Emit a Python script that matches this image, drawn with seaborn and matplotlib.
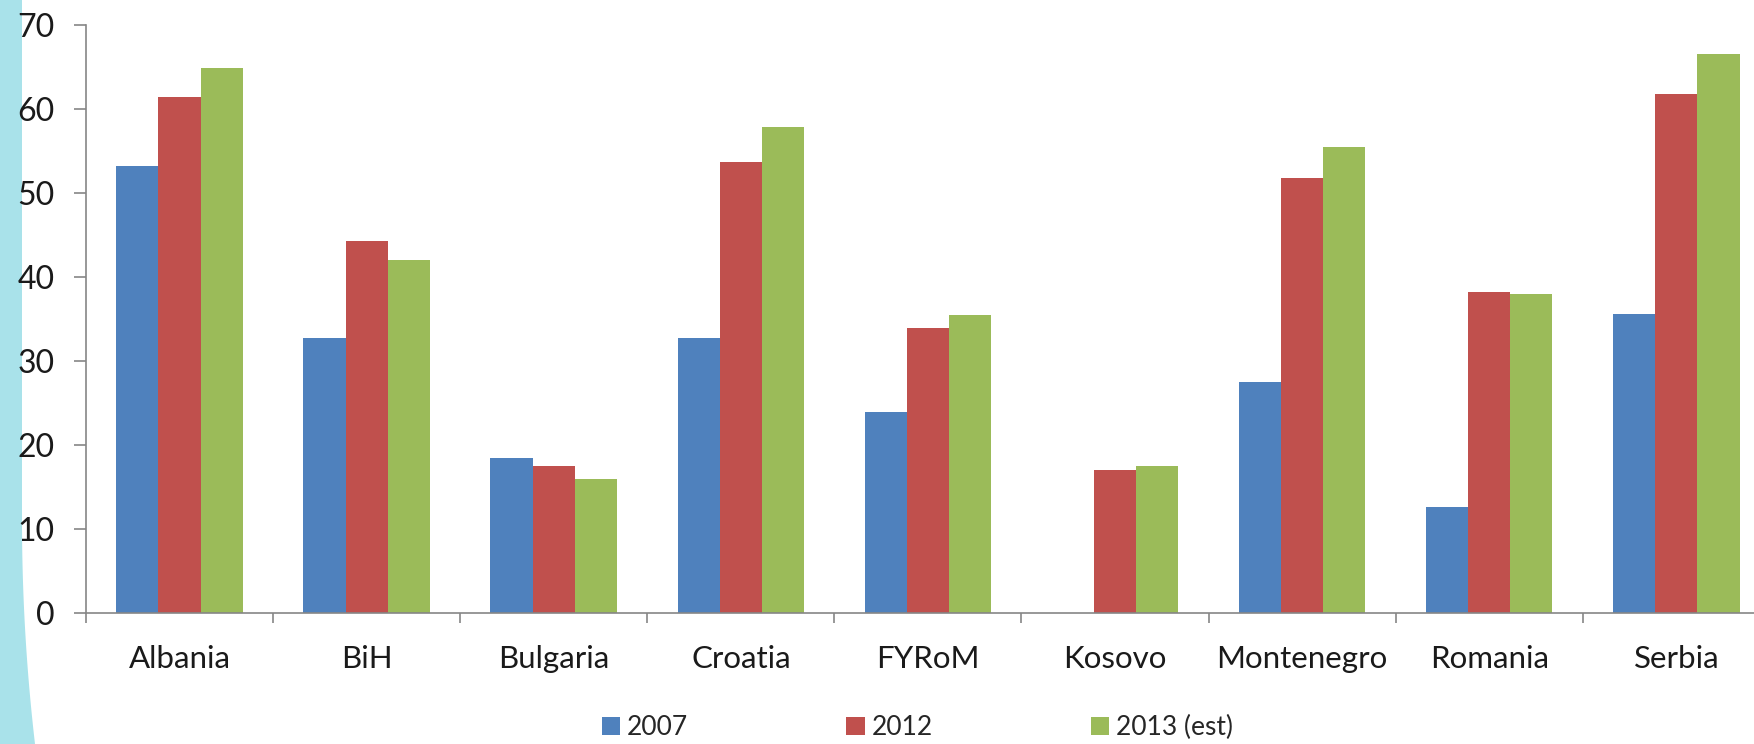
import numpy as np
import pandas as pd
import matplotlib
matplotlib.use("Agg")
import matplotlib.pyplot as plt
from matplotlib.patches import Polygon, Patch
import seaborn as sns

countries = ["Albania", "BiH", "Bulgaria", "Croatia", "FYRoM", "Kosovo",
             "Montenegro", "Romania", "Serbia"]
series = ["2007", "2012", "2013 (est)"]
vals_2007 = [53.2, 32.7, 18.4, 32.7, 23.9, np.nan, 27.5, 12.6, 35.6]
vals_2012 = [61.4, 44.2, 17.5, 53.6, 33.9, 17.0, 51.8, 38.2, 61.8]
vals_2013 = [64.8, 42.0, 16.0, 57.8, 35.4, 17.5, 55.4, 38.0, 66.5]
yticks = [0, 10, 20, 30, 40, 50, 60, 70]

colors = ["#4F81BD", "#C0504D", "#9BBB59"]

df = pd.DataFrame({
    "country": countries * 3,
    "series": [s for s in series for _ in countries],
    "value": vals_2007 + vals_2012 + vals_2013,
})

sns.set_theme(style="white")
plt.rcParams["font.family"] = ["Lato", "DejaVu Sans"]

fig = plt.figure(figsize=(17.54, 7.44), dpi=100)
fig.patch.set_facecolor("white")

# decorative cyan band along the left edge of the slide
W, H = 1754.0, 744.0
ys = np.linspace(0, 744, 80)
xs = np.where(ys < 520, 22.0, 22.0 + 13.0 * ((ys - 520) / 224.0) ** 2)
pts = [(0, 1)] + [(x / W, 1 - y / H) for x, y in zip(xs, ys)] + [(0, 0)]
fig.patches.append(Polygon(pts, closed=True, transform=fig.transFigure,
                           facecolor="#A9E2EA", edgecolor="none", zorder=0))

ax = fig.add_axes([86 / W, 131 / H, 0.960, (613 - 24.6) / H])
ax.set_zorder(2)
ax.patch.set_alpha(0)
sns.barplot(data=df, x="country", y="value", hue="series", order=countries,
            hue_order=series, palette=colors, width=0.676, saturation=1,
            errorbar=None, legend=False, ax=ax, zorder=2)
for p in ax.patches:
    p.set_edgecolor("none")

ax.set_xlim(-0.5, 8.5)
ax.set_ylim(0, 70)
ax.set_yticks(yticks)
ax.set_yticklabels([str(v) for v in yticks], fontsize=23, color="#1a1a1a")
ax.set_xlabel("")
ax.set_ylabel("")
ax.tick_params(axis="x", which="major", length=0, pad=23, labelsize=22.5,
               labelcolor="#1a1a1a")
ax.set_xticks(np.arange(-0.5, 9.0, 1.0), minor=True)
ax.tick_params(axis="x", which="minor", length=7.5, width=1.2, color="#868686",
               direction="out", bottom=True)
ax.tick_params(axis="y", length=8.5, width=1.2, color="#868686", direction="out",
               left=True, pad=14)
for side in ["top", "right"]:
    ax.spines[side].set_visible(False)
for side in ["left", "bottom"]:
    ax.spines[side].set_color("#868686")
    ax.spines[side].set_linewidth(1.2)

handles = [Patch(facecolor=c, edgecolor="none") for c in colors]
fig.legend(handles, series, loc="center", bbox_to_anchor=(0.523, 0.022),
           ncol=3, frameon=False, fontsize=19, handlelength=0.7,
           handleheight=0.7, handletextpad=0.25, columnspacing=6.0)

fig.savefig("out.png", dpi=100, facecolor="white")
